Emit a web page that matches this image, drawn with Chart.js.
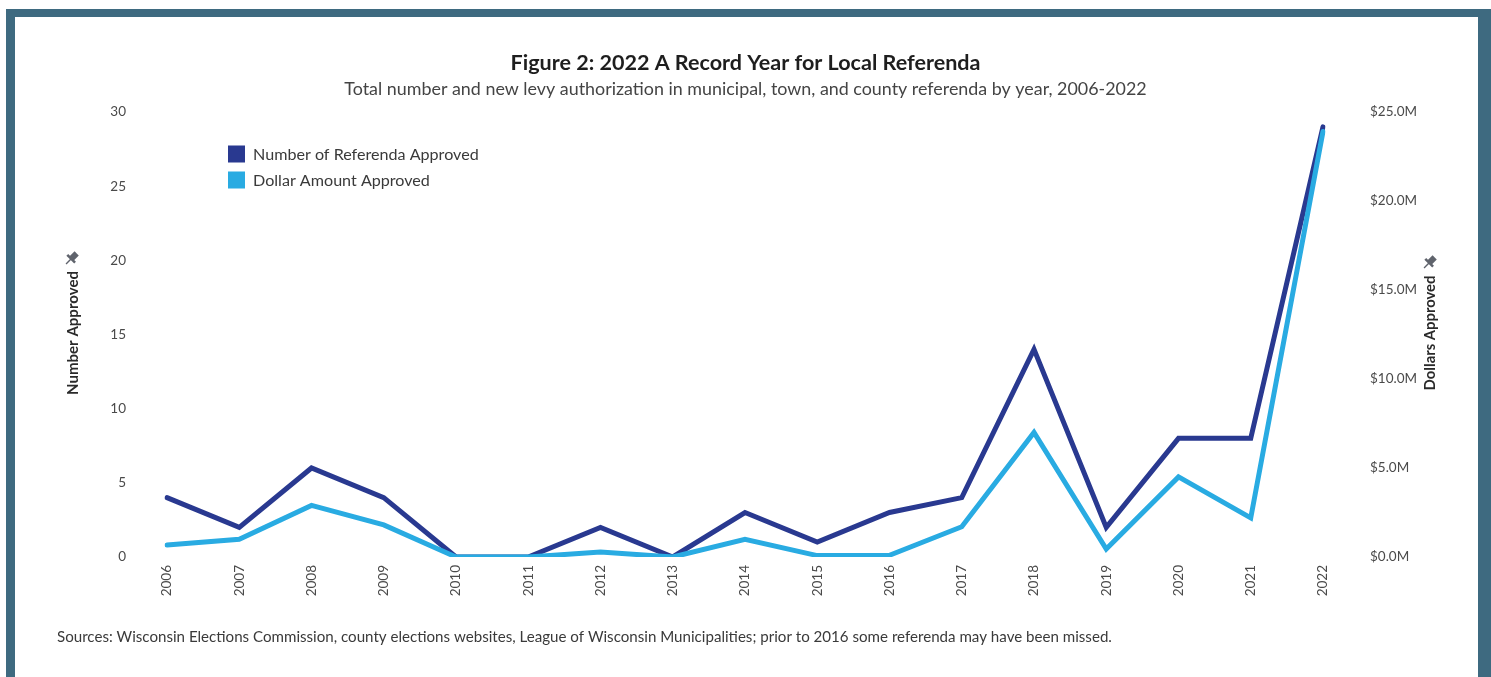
<!DOCTYPE html>
<html>
<head>
<meta charset="utf-8">
<script src="https://cdn.jsdelivr.net/npm/chart.js@4.4.1/dist/chart.umd.min.js"></script>
<style>
  html, body { margin: 0; padding: 0; background: #ffffff; }
  #wrap { position: relative; width: 1491px; height: 677px; overflow: hidden; }
  #frame { position: absolute; left: 6px; top: 9px; width: 1485px; height: 700px;
           box-sizing: border-box; border: 9px solid #3e6a80; border-top-width: 8px; border-right-width: 13px; }
  #box { position: absolute; left: 0; top: 0; width: 1491px; height: 677px; }
</style>
</head>
<body>
<div id="wrap">
  <div id="frame"></div>
  <div id="box"><canvas id="c"></canvas></div>
</div>
<script>
// ---- data ----
const years = ['2006','2007','2008','2009','2010','2011','2012','2013','2014','2015','2016','2017','2018','2019','2020','2021','2022'];
const numberApproved = [4, 2, 6, 4, 0, 0, 2, 0, 3, 1, 3, 4, 14, 2, 8, 8, 29];
const dollarsApprovedM = [0.67, 1.0, 2.9, 1.8, 0, 0, 0.28, 0, 1.0, 0.08, 0.1, 1.7, 7.0, 0.45, 4.5, 2.2, 23.9];
const leftTicks = [0, 5, 10, 15, 20, 25, 30];
const rightTicks = [0, 5, 10, 15, 20, 25];
const seriesNames = ['Number of Referenda Approved', 'Dollar Amount Approved'];
const titleText = 'Figure 2: 2022 A Record Year for Local Referenda';
const subtitleText = 'Total number and new levy authorization in municipal, town, and county referenda by year, 2006-2022';
const sourceText = 'Sources: Wisconsin Elections Commission, county elections websites, League of Wisconsin Municipalities; prior to 2016 some referenda may have been missed.';
const leftAxisTitle = 'Number Approved';
const rightAxisTitle = 'Dollars Approved';

const DARK = '#293990';
const LIGHT = '#29abe2';
const FONT = 'Lato';

function fitFont(ctx, text, weight, targetW, baseSize) {
  ctx.font = weight + ' ' + baseSize + 'px ' + FONT;
  const w = ctx.measureText(text).width;
  const size = baseSize * targetW / w;
  return weight + ' ' + size.toFixed(2) + 'px ' + FONT;
}

function drawPin(ctx, x, y) {
  ctx.save();
  ctx.translate(x, y);
  ctx.rotate(Math.PI / 4);
  ctx.fillStyle = '#5f636c';
  ctx.strokeStyle = '#5f636c';
  ctx.fillRect(-3, -8, 6, 7);
  ctx.fillRect(-5.5, -1.5, 11, 2.5);
  ctx.lineWidth = 1.4;
  ctx.beginPath();
  ctx.moveTo(0, 0);
  ctx.lineTo(0, 7);
  ctx.stroke();
  ctx.restore();
}

const decor = {
  id: 'decor',
  afterDraw(chart) {
    const ctx = chart.ctx;
    ctx.save();
    ctx.textBaseline = 'middle';
    ctx.textAlign = 'center';
    // title
    ctx.fillStyle = '#1e1e1e';
    ctx.font = fitFont(ctx, titleText, 'bold', 470, 18);
    ctx.fillText(titleText, 745.5, 63);
    // subtitle
    ctx.fillStyle = '#444';
    ctx.font = fitFont(ctx, subtitleText, 'normal', 803, 14);
    ctx.fillText(subtitleText, 745.5, 89);
    // source
    ctx.textAlign = 'left';
    ctx.fillStyle = '#3a3a3a';
    ctx.font = fitFont(ctx, sourceText, 'normal', 1055, 12);
    ctx.fillText(sourceText, 57, 637);
    // legend
    const colors = [DARK, LIGHT];
    const legY = [154, 180];
    const legW = [226, 177];
    for (let i = 0; i < 2; i++) {
      ctx.fillStyle = colors[i];
      ctx.fillRect(228, legY[i] - 8.5, 17, 17);
      ctx.fillStyle = '#3a3a3a';
      ctx.font = fitFont(ctx, seriesNames[i], 'normal', legW[i], 14);
      ctx.fillText(seriesNames[i], 253, legY[i] + 0.5);
    }
    // axis titles
    ctx.fillStyle = '#2a2a2a';
    ctx.textAlign = 'center';
    ctx.save();
    ctx.translate(73, 333);
    ctx.rotate(-Math.PI / 2);
    ctx.font = fitFont(ctx, leftAxisTitle, 'bold', 124, 12);
    ctx.fillText(leftAxisTitle, 0, 0);
    ctx.restore();
    drawPin(ctx, 71, 259);
    ctx.save();
    ctx.translate(1430, 333);
    ctx.rotate(-Math.PI / 2);
    ctx.font = fitFont(ctx, rightAxisTitle, 'bold', 115, 12);
    ctx.fillText(rightAxisTitle, 0, 0);
    ctx.restore();
    drawPin(ctx, 1429, 263);
    ctx.restore();
  }
};

const tickFont = { family: FONT, size: 13.5 };
const tickColor = '#4a4a4a';

new Chart(document.getElementById('c'), {
  type: 'line',
  data: {
    labels: years,
    datasets: [
      {
        label: seriesNames[0],
        data: numberApproved,
        yAxisID: 'y',
        borderColor: DARK,
        backgroundColor: DARK,
        borderWidth: 5,
        pointRadius: 0,
        borderJoinStyle: 'miter',
        borderCapStyle: 'round',
        tension: 0,
        order: 1
      },
      {
        label: seriesNames[1],
        data: dollarsApprovedM,
        yAxisID: 'y1',
        borderColor: LIGHT,
        backgroundColor: LIGHT,
        borderWidth: 5,
        pointRadius: 0,
        borderJoinStyle: 'miter',
        borderCapStyle: 'round',
        tension: 0,
        order: 0
      }
    ]
  },
  options: {
    responsive: true,
    maintainAspectRatio: false,
    animation: false,
    layout: { padding: { top: 112, left: 0, right: 0, bottom: 0 } },
    plugins: { legend: { display: false }, title: { display: false }, tooltip: { enabled: false } },
    scales: {
      x: {
        type: 'category',
        grid: { display: false, drawTicks: false },
        border: { display: false },
        ticks: { minRotation: 90, maxRotation: 90, padding: 8, color: tickColor, font: tickFont, autoSkip: false },
        afterFit(s) { s.height = 120; }
      },
      y: {
        position: 'left',
        min: 0, max: 30,
        grid: { display: false, drawTicks: false },
        border: { display: false },
        afterBuildTicks(s) { s.ticks = leftTicks.map(v => ({ value: v })); },
        ticks: { padding: 41, color: tickColor, font: tickFont },
        afterFit(s) { s.width = 167; }
      },
      y1: {
        position: 'right',
        min: 0, max: 25,
        grid: { display: false, drawTicks: false },
        border: { display: false },
        afterBuildTicks(s) { s.ticks = rightTicks.map(v => ({ value: v })); },
        ticks: { padding: 47, color: tickColor, font: tickFont, callback: v => '$' + Number(v).toFixed(1) + 'M' },
        afterFit(s) { s.width = 168; }
      }
    }
  },
  plugins: [decor]
});
</script>
</body>
</html>
